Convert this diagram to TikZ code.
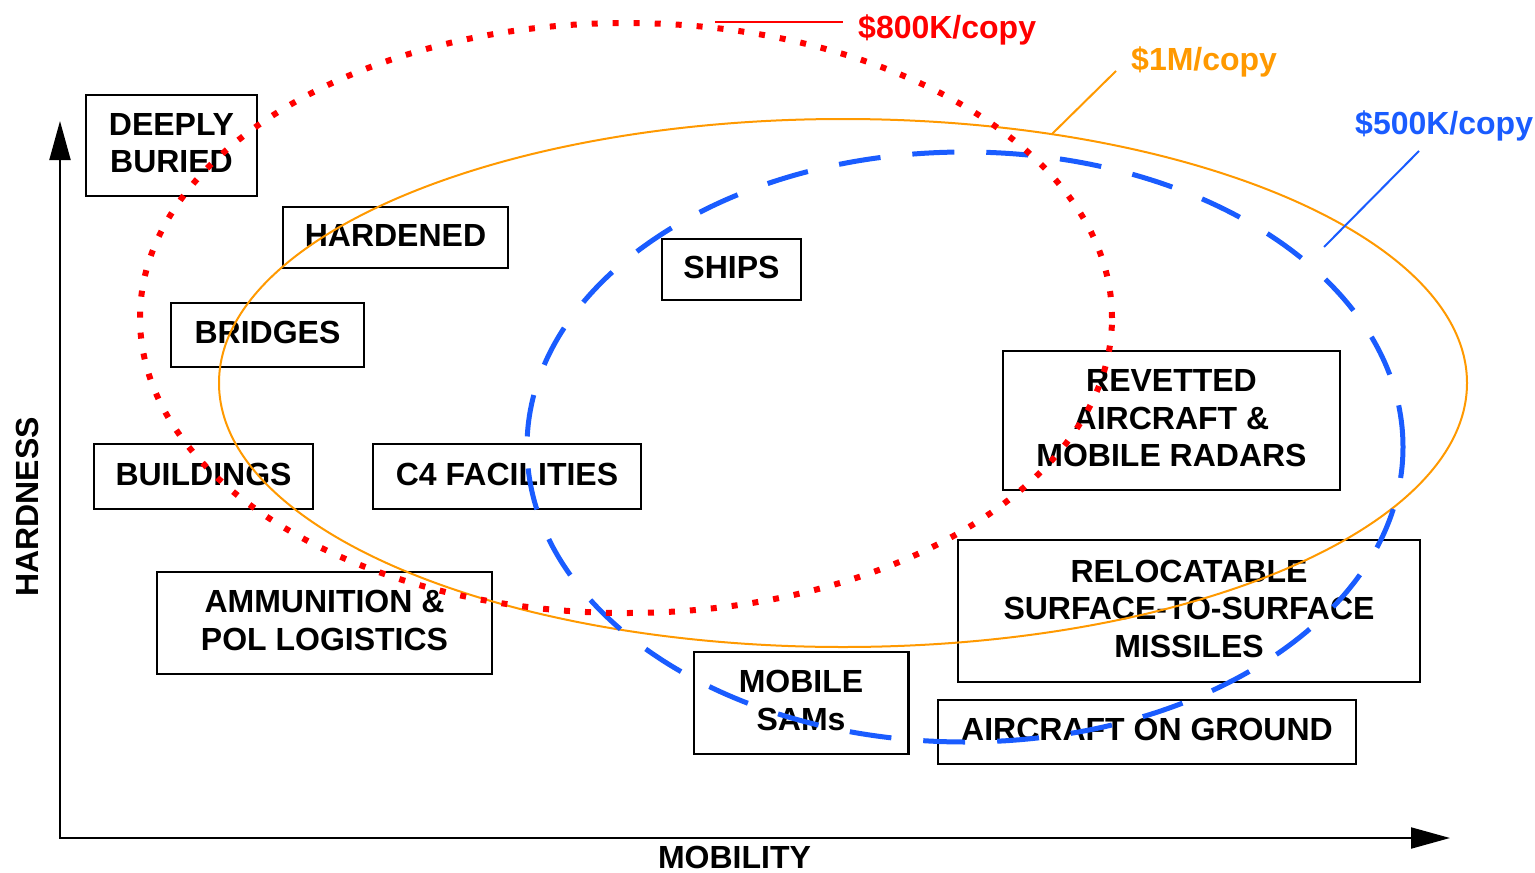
\documentclass[tikz,border=0pt]{standalone}
\usepackage{fontspec}
\setmainfont{Liberation Sans}
\usetikzlibrary{arrows.meta}
\definecolor{cred}{RGB}{255,0,0}
\definecolor{corange}{RGB}{255,153,0}
\definecolor{cblue}{RGB}{26,92,255}
\begin{document}
\begin{tikzpicture}[x=1pt,y=-1pt,
  txt/.style={font=\bfseries\fontsize{32}{37.5}\selectfont},
  box/.style={txt, draw, line width=2.5pt, inner sep=0pt, align=center,
    execute at end node={\rule[-5pt]{0pt}{0pt}}},
  lbl/.style={txt, inner sep=0pt, anchor=base west},
  axisline/.style={line width=2pt, {Triangle[length=39pt,width=21pt]}-{Triangle[length=39pt,width=21pt]}},
  leader/.style={line width=2pt},
]
\useasboundingbox (0,0) rectangle (1535,873);

% boxes
\node[box, minimum width=171pt, minimum height=101pt] (deep) at (171.5,145.5) {DEEPLY\\BURIED};
\node[box, minimum width=225pt, minimum height=61pt] (hard) at (395.5,237.5) {HARDENED};
\node[box, minimum width=139pt, minimum height=61pt] (ships) at (731.5,269.5) {SHIPS};
\node[box, minimum width=193pt, minimum height=64pt] (bridges) at (267.5,335) {BRIDGES};
\node[box, minimum width=219pt, minimum height=65pt] (build) at (203.5,476.5) {BUILDINGS};
\node[box, minimum width=268pt, minimum height=65pt] (c4) at (507,476.5) {C4 FACILITIES};
\node[box, minimum width=335pt, minimum height=102pt] (ammo) at (324.5,623) {AMMUNITION \&\\POL LOGISTICS};
\node[box, minimum width=337pt, minimum height=139pt] (revet) at (1171.5,420.5) {REVETTED\\AIRCRAFT \&\\MOBILE RADARS};
\node[box, minimum width=462pt, minimum height=142pt] (reloc) at (1189,611) {RELOCATABLE\\SURFACE-TO-SURFACE\\MISSILES};
\node[box, minimum width=214.5pt, minimum height=102pt] (sams) at (801,703) {MOBILE\\SAMs};
\node[box, minimum width=418pt, minimum height=64pt] (aog) at (1147,732) {AIRCRAFT ON GROUND};

% axes
\coordinate (o) at (60,838);
\coordinate (ytip) at (60,121);
\coordinate (xtip) at (1450,838);
\draw[axisline] (ytip) -- (o) -- (xtip);
\node[txt, rotate=90, inner sep=0pt] (hl) at (27,507) {HARDNESS};
\node[txt, inner sep=0pt] (ml) at (734.5,857) {MOBILITY};

% cost ellipses
\draw[corange, line width=2pt] (843,383) ellipse [x radius=624pt, y radius=264pt];
\draw[cblue, line width=5pt, dash pattern=on 42pt off 32pt] (965,447) ellipse [x radius=438pt, y radius=295pt];
\draw[cred, line width=6pt, dash pattern=on 6pt off 15pt] (626,318) ellipse [x radius=486pt, y radius=295pt];

% labels
\node[lbl, text=cred] (l800) at (858,38) {\$800K/copy};
\node[lbl, text=corange] (l1m) at (1131,70) {\$1M/copy};
\node[lbl, text=cblue] (l500) at (1355,134) {\$500K/copy};

% leaders
\coordinate (r1) at (715,22); \coordinate (r2) at (843,22);
\draw[cred, leader] (r1) -- (r2);
\coordinate (o1) at (1116,71); \coordinate (o2) at (1052,134);
\draw[corange, leader] (o1) -- (o2);
\coordinate (b1) at (1419,151); \coordinate (b2) at (1324,247);
\draw[cblue, leader] (b1) -- (b2);
\end{tikzpicture}
\end{document}
